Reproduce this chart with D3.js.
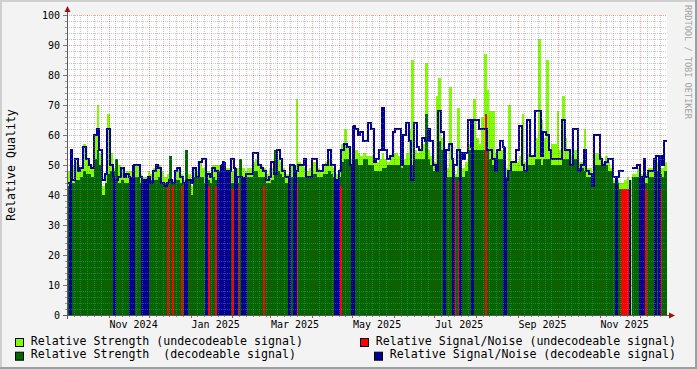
<!DOCTYPE html>
<html>
<head>
<meta charset="utf-8">
<script src="https://cdn.jsdelivr.net/npm/d3@7"></script>
<style>
  body { margin: 0; background: #f3f3f3; }
  svg { display: block; }
  text { font-family: "DejaVu Sans Mono", monospace; white-space: pre; }
</style>
</head>
<body>
<div id="chart"></div>
<script>
// time range of the graph, data comes in 2-day steps
const startDay = "2024-10-01";
const endDay = "2025-12-21";
const binDays = 2;

// relative strength, undecodeable signal (light green)
const strengthUndec = [
  48,49,50,51,50,49,57,52,50,50, 60,70,54,43,47,67,54,49,50,50,
  49,47,48,48,49,50,50,47,46,46, 48,47,49,50,50,48,46,47,48,45,
  48,49,47,45,48,47,43,49,48,51, 49,49,48,47,50,50,50,50,50,49,
  49,48,48,49,50,49,48,49,49,51, 52,50,50,49,47,49,49,50,52,51,
  49,47,47,50,50,72,51,50,49,48, 49,51,51,49,48,50,51,52,50,49,
  47,49,57,62,56,52,55,55,54,53, 54,53,53,53,51,51,52,54,52,51,
  53,54,54,53,51,52,54,62,85,55, 54,55,57,84,55,53,51,73,79,59,
  51,49,76,49,47,69,49,49,51,57, 54,72,59,57,66,87,75,68,68,54,
  55,55,54,49,70,51,51,51,53,67, 51,54,53,53,59,92,65,59,85,55,
  57,57,68,55,73,59,55,53,55,55, 51,51,62,49,49,46,54,54,53,51,
  53,51,49,45,45,44,44,45,46,45, 47,47,49,47,51,47,49,49,51,51,
  49,49,51
];

// relative strength, decodeable signal (dark green)
const strengthDec = [
  43,43,44,45,45,46,48,47,47,46, 52,55,50,40,44,47,48,48,52,44,
  45,44,44,45,45,46,46,44,44,44, 44,45,45,45,46,44,44,44,53,44,
  45,45,44,44,55,45,40,46,46,46, 46,44,45,44,46,45,48,45,45,45,
  45,44,44,44,52,46,46,46,46,48, 48,46,46,46,44,44,45,55,48,47,
  46,44,44,46,46,46,46,46,46,46, 46,47,47,46,46,47,47,48,47,46,
  44,46,51,52,52,50,52,52,50,50, 52,52,50,50,48,48,48,49,49,50,
  50,50,50,50,49,50,50,50,50,52, 52,52,52,67,52,50,48,50,58,55,
  48,46,46,46,46,46,46,46,48,55, 52,55,55,55,55,55,55,52,50,50,
  52,52,52,46,48,48,48,48,48,48, 48,50,50,50,52,52,50,52,52,52,
  50,50,50,50,52,52,52,50,52,52, 49,49,48,46,46,44,50,50,50,50,
  50,48,48,44,44,42,42,null,null,null, 46,46,46,46,47,44,46,46,48,48,
  47,46,48
];

// relative signal/noise, decodeable signal (blue line)
const snrDec = [
  44,55,45,52,48,49,56,52,50,49, 60,62,55,45,47,62,50,46,45,46,
  49,46,47,46,50,50,50,46,45,45, 46,44,48,50,49,44,43,44,45,44,
  48,49,46,44,45,45,44,49,46,51, 52,52,47,46,49,48,47,50,51,48,
  48,52,49,46,46,46,47,47,47,54, 54,50,49,48,45,46,51,47,55,52,
  48,46,46,50,50,48,50,50,52,46, 46,52,52,48,48,50,50,55,50,50,
  45,48,55,57,56,50,63,62,60,61, 58,58,64,62,51,52,55,69,55,52,
  53,61,62,62,50,60,64,58,45,64, 56,55,59,58,62,58,50,48,68,61,
  46,55,57,52,50,55,54,52,54,65, 56,65,65,62,62,62,55,55,52,48,
  55,58,56,45,48,51,51,55,63,50, 48,65,53,53,68,68,53,61,60,55,
  52,52,52,52,65,55,55,50,62,62, 48,50,55,48,47,43,60,60,52,50,
  51,52,52,46,46,48,48,null,null,null, 49,49,50,46,52,46,48,48,52,53,
  53,50,58
];

// days where the decodeable signal/noise drops to zero
const snrDropDays = [
  "2024-10-03","2024-11-05","2024-11-17","2024-11-18","2024-11-19","2024-11-26",
  "2024-11-29","2024-12-28","2025-01-12","2025-01-21","2025-01-23","2025-01-26",
  "2025-01-29","2025-02-03","2025-02-08","2025-02-09","2025-02-10","2025-03-15",
  "2025-03-19","2025-04-18","2025-04-20","2025-05-01","2025-07-08","2025-07-15",
  "2025-07-20","2025-07-29","2025-08-22","2025-11-13","2025-11-23","2025-12-01",
  "2025-12-03","2025-12-12","2025-12-15"
];

// relative signal/noise, undecodeable signal (red)
const snrUndecDays = [
  "2024-12-14","2024-12-18","2024-12-25","2025-01-14","2025-01-19","2025-01-24",
  "2025-02-01","2025-02-04","2025-02-24","2025-03-20","2025-04-19","2025-04-22",
  "2025-07-16","2025-07-19","2025-08-08","2025-11-17","2025-11-18","2025-11-19",
  "2025-11-20","2025-11-21","2025-11-22","2025-12-05","2025-12-16"
];
const snrUndecValues = [
  43,43,43,43,43,42, 42,43,43,44,43,43, 45,45,67,42,42,42, 42,42,42,42,42
];

const yTicks = [0, 10, 20, 30, 40, 50, 60, 70, 80, 90, 100];
const xLabelMonths = ["2024-11-01","2025-01-01","2025-03-01","2025-05-01","2025-07-01","2025-09-01","2025-11-01"];
const legendLeft = ["Relative Strength (undecodeable signal)", "Relative Strength  (decodeable signal)"];
const legendRight = ["Relative Signal/Noise (undecodeable signal)", "Relative Signal/Noise (decodeable signal)"];

const colors = {
  undec: "#80ff00",
  dec: "#006600",
  snrUndec: "#ff0000",
  snrDec: "#000099"
};

const W = 697, H = 369;
const plotL = 67, plotR = 667, plotT = 15, plotB = 315;

const parse = d3.timeParse("%Y-%m-%d");
const fmt = d3.timeFormat("%Y-%m-%d");
const t0 = parse(startDay), t1 = parse(endDay);

const x = d3.scaleTime().domain([t0, t1]).range([plotL, plotR]);
const y = d3.scaleLinear().domain([0, 100]).range([plotB, plotT]);

const svg = d3.select("#chart").append("svg")
  .attr("width", W)
  .attr("height", H);

// background + 3d frame
svg.append("rect").attr("width", W).attr("height", H).attr("fill", "#f3f3f3");
svg.append("path").attr("d", `M1,${H} V1 H${W}`).attr("fill", "none")
  .attr("stroke", "#cfcfcf").attr("stroke-width", 2);
svg.append("path").attr("d", `M0,${H - 1} H${W - 1} V0`).attr("fill", "none")
  .attr("stroke", "#9e9e9e").attr("stroke-width", 2);

svg.append("rect")
  .attr("x", plotL).attr("y", plotT)
  .attr("width", plotR - plotL).attr("height", plotB - plotT)
  .attr("fill", "#ffffff");

svg.append("clipPath").attr("id", "plot")
  .append("rect")
  .attr("x", plotL).attr("y", plotT)
  .attr("width", plotR - plotL).attr("height", plotB - plotT);

const bins = strengthDec.map((d, i) => ({
  start: d3.timeDay.offset(t0, i * binDays),
  end: d3.timeDay.offset(t0, (i + 1) * binDays),
  dec: d,
  undec: strengthUndec[i],
  snr: snrDec[i]
}));

function stepPoints(key) {
  return bins.flatMap(b => [{t: b.start, v: b[key]}, {t: b.end, v: b[key]}]);
}

function binAt(day) {
  let i = Math.floor(d3.timeDay.count(t0, day) / binDays);
  i = Math.max(0, Math.min(bins.length - 1, i));
  return bins[i];
}

const g = svg.append("g").attr("clip-path", "url(#plot)");

const area = d3.area()
  .defined(d => d.v != null)
  .x(d => x(d.t))
  .y0(y(0))
  .y1(d => y(d.v));

g.append("path")
  .attr("d", area(stepPoints("undec")))
  .attr("fill", colors.undec)
  .attr("shape-rendering", "crispEdges");

g.append("path")
  .attr("d", area(stepPoints("dec")))
  .attr("fill", colors.dec)
  .attr("shape-rendering", "crispEdges");

// undecodeable signal/noise
const redData = snrUndecDays.map((d, i) => ({t: parse(d), v: snrUndecValues[i]}));
g.selectAll("rect.red")
  .data(redData)
  .enter()
  .append("rect")
    .attr("class", "red")
    .attr("x", d => x(d.t))
    .attr("width", d => Math.max(2, x(d3.timeDay.offset(d.t, 1)) - x(d.t)))
    .attr("y", d => y(d.v))
    .attr("height", d => y(0) - y(d.v))
    .attr("fill", colors.snrUndec)
    .attr("shape-rendering", "crispEdges");

// decodeable signal/noise: step line that drops to zero on missing days
const dropSet = new Set(snrDropDays);
const allDays = d3.timeDay.range(t0, d3.timeDay.offset(t0, bins.length * binDays));
const snrDaily = allDays.flatMap(day => {
  const v = dropSet.has(fmt(day)) ? 0 : binAt(day).snr;
  return [{t: day, v: v}, {t: d3.timeDay.offset(day, 1), v: v}];
});

g.selectAll("rect.drop")
  .data(snrDropDays.map(parse))
  .enter()
  .append("rect")
    .attr("class", "drop")
    .attr("x", d => x(d))
    .attr("width", d => x(d3.timeDay.offset(d, 1)) - x(d))
    .attr("y", d => y(binAt(d).snr || 45))
    .attr("height", d => y(0) - y(binAt(d).snr || 45))
    .attr("fill", colors.snrDec)
    .attr("shape-rendering", "crispEdges");

const line = d3.line()
  .defined(d => d.v != null)
  .x(d => x(d.t))
  .y(d => y(d.v));

g.append("path")
  .attr("d", line(snrDaily))
  .attr("fill", "none")
  .attr("stroke", colors.snrDec)
  .attr("stroke-width", 2)
  .attr("shape-rendering", "crispEdges");

// grid on top of the graph, like rrdtool
const grid = svg.append("g");
const minorY = d3.range(2, 100, 2).filter(v => v % 10 !== 0);
grid.selectAll("line.hmin")
  .data(minorY)
  .enter()
  .append("line")
    .attr("x1", plotL).attr("x2", plotR)
    .attr("y1", d => Math.round(y(d)) + 0.5)
    .attr("y2", d => Math.round(y(d)) + 0.5)
    .attr("stroke", "rgba(130,130,130,0.45)")
    .attr("stroke-dasharray", "1,1");

const minorDays = d3.timeDay.range(t0, t1).filter(d => [6, 11, 16, 21, 26].includes(d.getDate()));
grid.selectAll("line.vmin")
  .data(minorDays)
  .enter()
  .append("line")
    .attr("y1", plotT).attr("y2", plotB)
    .attr("x1", d => Math.round(x(d)) + 0.5)
    .attr("x2", d => Math.round(x(d)) + 0.5)
    .attr("stroke", "rgba(130,130,130,0.45)")
    .attr("stroke-dasharray", "1,1");

grid.selectAll("line.hmaj")
  .data(yTicks.slice(1))
  .enter()
  .append("line")
    .attr("x1", plotL).attr("x2", plotR)
    .attr("y1", d => Math.round(y(d)) + 0.5)
    .attr("y2", d => Math.round(y(d)) + 0.5)
    .attr("stroke", "rgba(220,0,0,0.35)")
    .attr("stroke-dasharray", "1,1");

const months = d3.timeMonth.range(d3.timeMonth.ceil(d3.timeDay.offset(t0, 1)), t1);
grid.selectAll("line.vmaj")
  .data(months)
  .enter()
  .append("line")
    .attr("y1", plotT).attr("y2", plotB)
    .attr("x1", d => Math.round(x(d)) + 0.5)
    .attr("x2", d => Math.round(x(d)) + 0.5)
    .attr("stroke", "rgba(220,0,0,0.35)")
    .attr("stroke-dasharray", "1,1");

// y axis labels and ticks
const yAxis = svg.append("g")
  .attr("transform", `translate(${plotL},0)`)
  .call(d3.axisLeft(y).tickValues(yTicks).tickSize(4).tickPadding(3));
yAxis.select(".domain").remove();
yAxis.selectAll(".tick line").attr("stroke", "#777");
yAxis.selectAll(".tick text")
  .attr("font-family", "DejaVu Sans Mono")
  .attr("font-size", 10)
  .attr("fill", "#000");

svg.selectAll("line.ymin")
  .data(minorY)
  .enter()
  .append("line")
    .attr("x1", plotL - 2).attr("x2", plotL)
    .attr("y1", d => Math.round(y(d)) + 0.5)
    .attr("y2", d => Math.round(y(d)) + 0.5)
    .attr("stroke", "#999");

// x axis ticks below the axis line
svg.selectAll("line.xmin")
  .data(minorDays)
  .enter()
  .append("line")
    .attr("y1", plotB).attr("y2", plotB + 2)
    .attr("x1", d => Math.round(x(d)) + 0.5)
    .attr("x2", d => Math.round(x(d)) + 0.5)
    .attr("stroke", "#999");
svg.selectAll("line.xmaj")
  .data(months)
  .enter()
  .append("line")
    .attr("y1", plotB).attr("y2", plotB + 3)
    .attr("x1", d => Math.round(x(d)) + 0.5)
    .attr("x2", d => Math.round(x(d)) + 0.5)
    .attr("stroke", "#d04040");

// x labels sit in the middle of their month
const labelFmt = d3.timeFormat("%b %Y");
svg.selectAll("text.xlab")
  .data(xLabelMonths.map(parse))
  .enter()
  .append("text")
    .attr("x", d => x(d3.timeHour.offset(d, 18 * 24 + 12)))
    .attr("y", 328)
    .attr("text-anchor", "middle")
    .attr("font-size", 10)
    .text(d => labelFmt(d));

// axis lines with arrows
svg.append("line")
  .attr("x1", plotL - 4).attr("x2", plotR + 4)
  .attr("y1", plotB + 0.5).attr("y2", plotB + 0.5)
  .attr("stroke", "#5a5a5a");
svg.append("line")
  .attr("x1", plotL + 0.5).attr("x2", plotL + 0.5)
  .attr("y1", plotB + 4).attr("y2", plotT - 4)
  .attr("stroke", "#5a5a5a");
svg.append("path")
  .attr("d", `M${plotR + 2},${plotB - 2.5} L${plotR + 8},${plotB + 0.5} L${plotR + 2},${plotB + 3.5} Z`)
  .attr("fill", "#a01010");
svg.append("path")
  .attr("d", `M${plotL - 2.5},${plotT - 3} L${plotL + 0.5},${plotT - 9} L${plotL + 3.5},${plotT - 3} Z`)
  .attr("fill", "#a01010");

// vertical axis title
svg.append("text")
  .attr("transform", `translate(15,${(plotT + plotB) / 2}) rotate(-90)`)
  .attr("text-anchor", "middle")
  .attr("font-size", 11.6)
  .text("Relative Quality");

// watermark
svg.append("text")
  .attr("transform", "translate(685,5) rotate(90)")
  .attr("font-size", 8.6)
  .attr("fill", "#a4a4a4")
  .text("RRDTOOL / TOBI OETIKER");

// legend
const legendRows = [344.5, 358.2];
const legendColorsLeft = [colors.undec, colors.dec];
const legendColorsRight = [colors.snrUndec, colors.snrDec];

legendLeft.forEach((label, i) => {
  svg.append("rect")
    .attr("x", 15.5).attr("y", legendRows[i] - 6)
    .attr("width", 8).attr("height", 8)
    .attr("fill", legendColorsLeft[i])
    .attr("stroke", "#000");
  svg.append("text")
    .attr("x", 30.7).attr("y", legendRows[i])
    .attr("font-size", 11.6)
    .text(label);
});

legendRight.forEach((label, i) => {
  const txt = svg.append("text")
    .attr("x", 676).attr("y", legendRows[i])
    .attr("text-anchor", "end")
    .attr("font-size", 11.6)
    .text(label);
  const w = txt.node().getComputedTextLength();
  svg.append("rect")
    .attr("x", Math.round(676 - w - 15.7) + 0.5).attr("y", legendRows[i] - 6)
    .attr("width", 8).attr("height", 8)
    .attr("fill", legendColorsRight[i])
    .attr("stroke", "#000");
});
</script>
</body>
</html>
